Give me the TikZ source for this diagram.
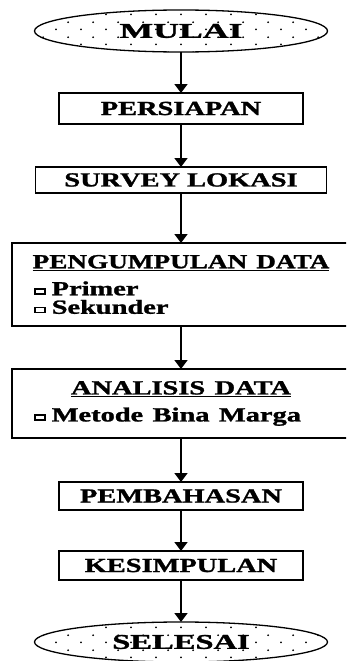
\documentclass[tikz,border=0pt]{standalone}
\usepackage{fontspec}
\setmainfont{Liberation Serif}[BoldFeatures={FakeBold=1.2}]
\usepackage{graphicx}
\usetikzlibrary{positioning, shapes.geometric, arrows.meta, patterns.meta}

% teks dilebarkan mendatar
\newcommand{\lebar}[2][1.42]{\scalebox{#1}[1]{#2}}
% kotak kecil untuk butir
\newcommand{\butir}{\raisebox{2pt}{\fboxsep=0pt\fboxrule=1.5pt\fbox{\rule{0pt}{3.5pt}\hspace{5.5pt}}}\hspace{4pt}}
% judul di tengah kotak besar
\newcommand{\judul}[2][1.42]{\makebox[294pt]{\lebar[#1]{\underline{#2}}}}

\tikzdeclarepattern{
  name=titik,
  type=uncolored,
  bounding box={(0pt,0pt) and (25pt,14.6pt)},
  tile size={(25pt,14.6pt)},
  code={
    \fill (6.25pt,3.65pt) circle (1pt);
    \fill (18.75pt,10.95pt) circle (1pt);
  }
}

\begin{document}
\begin{tikzpicture}[
            x=1pt, y=-1pt,
            ujung/.style={ellipse, draw, line width=1.3pt, outer sep=0pt, pattern={titik}, pattern color=black, minimum width=293pt, minimum height=42pt, inner sep=0pt},
            tahap/.style={draw, line width=1.3pt, outer sep=0pt, inner sep=0pt},
            tahapbesar/.style={draw, line width=1.3pt, outer sep=0pt, inner xsep=22pt, inner ysep=0pt, text width=294pt, align=left, minimum height=60pt},
            panah/.style={-{Triangle[width=13pt, length=9pt]}, line width=1.8pt},
            font=\fontsize{20}{17}\selectfont\bfseries
        ]
        \useasboundingbox (0,0) rectangle (346,661);
        \clip (0,0) rectangle (346,661);

        % Mulai
        \node[ujung, font=\fontsize{21}{21}\selectfont\bfseries] (mulai) at (181,31) {\lebar[1.7]{MULAI}};

        % Tahapan
        \node[tahap, below=41pt of mulai, minimum width=244pt, minimum height=31pt] (persiapan) {\lebar{PERSIAPAN}};
        \node[tahap, below=43pt of persiapan, minimum width=291pt, minimum height=26pt] (survey) {\lebar{SURVEY LOKASI}};

        \node[tahapbesar, below=50pt of survey, minimum height=83pt] (kumpul) {\judul[1.36]{PENGUMPULAN DATA}\\[10pt]
            \lebar{\butir Primer}\\[1.5pt]
            \lebar{\butir Sekunder}\par\vspace{7pt}};

        \node[tahapbesar, below=43pt of kumpul, minimum height=69pt] (analisis) {\judul{ANALISIS DATA}\\[10pt]
            \lebar{\butir Metode Bina Marga}\par\vspace{6pt}};

        \node[tahap, below=44pt of analisis, minimum width=244pt, minimum height=28pt] (bahas) {\lebar{PEMBAHASAN}};
        \node[tahap, below=41pt of bahas, minimum width=244pt, minimum height=29pt] (simpul) {\lebar{KESIMPULAN}};

        % Selesai
        \node[ujung, below=42pt of simpul, minimum height=40pt, font=\fontsize{21}{21}\selectfont\bfseries] (selesai) {\lebar[1.55]{SELESAI}};

        % Panah
        \draw[panah] (mulai) -- (persiapan);
        \draw[panah] (persiapan) -- (survey);
        \draw[panah] (survey) -- (kumpul);
        \draw[panah] (kumpul) -- (analisis);
        \draw[panah] (analisis) -- (bahas);
        \draw[panah] (bahas) -- (simpul);
        \draw[panah] (simpul) -- (selesai);
\end{tikzpicture}
\end{document}
